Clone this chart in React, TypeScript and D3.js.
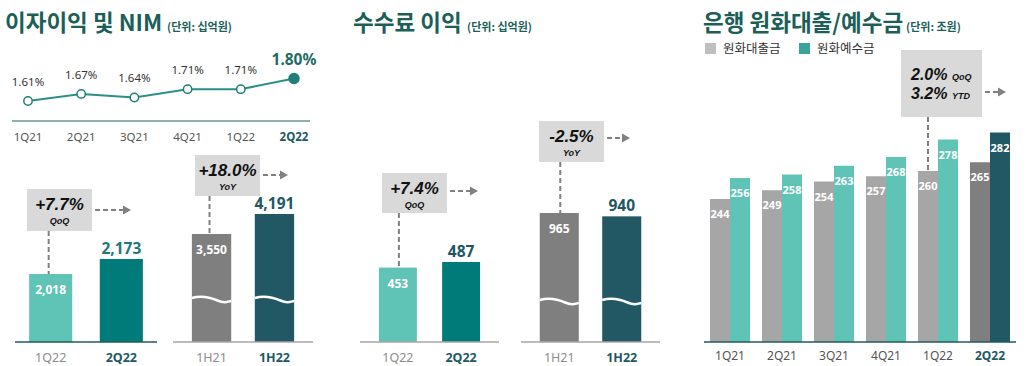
import * as d3 from 'd3';

// NIM
const nimQuarters = ['1Q21', '2Q21', '3Q21', '4Q21', '1Q22', '2Q22'];
const nimValues = [1.61, 1.67, 1.64, 1.71, 1.71, 1.8];

// 이자이익 (십억원)
const interestQLabels = ['1Q22', '2Q22'];
const interestQValues = [2018, 2173];
const interestHLabels = ['1H21', '1H22'];
const interestHValues = [3550, 4191];

// 수수료 이익 (십억원)
const feeQLabels = ['1Q22', '2Q22'];
const feeQValues = [453, 487];
const feeHLabels = ['1H21', '1H22'];
const feeHValues = [965, 940];

// 원화대출/예수금 (조원)
const loanQuarters = ['1Q21', '2Q21', '3Q21', '4Q21', '1Q22', '2Q22'];
const loanValues = [244, 249, 254, 257, 260, 265];
const depositValues = [256, 258, 263, 268, 278, 282];
const seriesNames = ['원화대출금', '원화예수금'];

const TITLE = '#1b5f58';
const LIGHT_TEAL = '#5fc3b5';
const TEAL = '#007b79';
const GRAY = '#7f7f7f';
const DARK_TEAL = '#215863';
const FONT = "'Noto Sans', 'Noto Sans CJK KR', sans-serif";
const KFONT = "'Noto Sans CJK KR', 'Noto Sans', sans-serif";
const CALLOUT_FONT = "'Liberation Sans', Arial, sans-serif";
const BASE = 342;

type CalloutProps = {
  x: number; y: number; w: number; h: number;
  big: string; small: string;
  lineX: number; lineY2: number;
  arrowY: number; arrowX2: number;
};

function Arrow({ x1, x2, y }: { x1: number; x2: number; y: number }) {
  return (
    <g>
      <line x1={x1 + 3} x2={x2 - 7} y1={y} y2={y} stroke="#808080" strokeWidth={2} strokeDasharray="5,3" />
      <path d={`M${x2 - 8},${y - 4.5} L${x2},${y} L${x2 - 8},${y + 4.5} Z`} fill="#808080" />
    </g>
  );
}

function Callout({ x, y, w, h, big, small, lineX, lineY2, arrowY, arrowX2 }: CalloutProps) {
  return (
    <g>
      <line x1={lineX} x2={lineX} y1={y + h} y2={lineY2} stroke="#808080" strokeWidth={2} strokeDasharray="5,3" />
      <rect x={x} y={y} width={w} height={h} fill="#d9d9d9" />
      <text x={x + w / 2} y={y + 21} textAnchor="middle" fontFamily={CALLOUT_FONT} fontWeight="bold" fontStyle="italic" fontSize={17} fill="#111">{big}</text>
      <text x={x + w / 2} y={y + 35} textAnchor="middle" fontFamily={CALLOUT_FONT} fontWeight="bold" fontStyle="italic" fontSize={9} fill="#111">{small}</text>
      <Arrow x1={x + w} x2={arrowX2} y={arrowY} />
    </g>
  );
}

function Wave({ x, w, y }: { x: number; w: number; y: number }) {
  return (
    <path
      d={`M${x},${y} C${x + w * 0.25},${y - 3} ${x + w * 0.45},${y - 1} ${x + w * 0.65},${y + 2.5} S${x + w * 0.9},${y + 3.5} ${x + w},${y + 3}`}
      fill="none" stroke="#fff" strokeWidth={2.5}
    />
  );
}

type PairProps = {
  labels: string[]; values: number[];
  x0: number; x1: number; pi: number; po: number;
  y: d3.ScaleLinear<number, number>;
  colors: string[]; labelColors: string[];
  baseColor: string; wave?: number;
};

function BarPair({ labels, values, x0, x1, pi, po, y, colors, labelColors, baseColor, wave }: PairProps) {
  const x = d3.scaleBand<string>().domain(labels).range([x0, x1]).paddingInner(pi).paddingOuter(po);
  const bw = x.bandwidth();
  return (
    <g>
      {labels.map((l, i) => {
        const bx = x(l)!;
        const top = y(values[i]);
        const cx = bx + bw / 2;
        return (
          <g key={l}>
            <rect x={bx} y={top} width={bw} height={BASE - top} fill={colors[i]} />
            {wave !== undefined && <Wave x={bx} w={bw} y={wave} />}
            {i === 0 ? (
              <text x={cx} y={top + 20} textAnchor="middle" fontFamily={FONT} fontWeight="bold" fontSize={12} fill="#fff">{d3.format(',')(values[i])}</text>
            ) : (
              <text x={cx} y={top - 5} textAnchor="middle" fontFamily={FONT} fontWeight="bold" fontSize={15.5} fill={labelColors[i]}>{d3.format(',')(values[i])}</text>
            )}
            <text x={cx} y={362} textAnchor="middle" fontFamily={FONT} fontWeight={i === 1 ? 'bold' : 'normal'} fontSize={12.5} fill={i === 1 ? DARK_TEAL : '#8c8c8c'}>{l}</text>
          </g>
        );
      })}
      <line x1={x0} x2={x1} y1={BASE} y2={BASE} stroke={baseColor} strokeWidth={1.5} />
    </g>
  );
}

function Title({ x, text, sub, subX }: { x: number; text: string; sub: string; subX: number }) {
  return (
    <g>
      <text x={x} y={31} fontFamily={KFONT} fontWeight="bold" fontSize={22.5} fill={TITLE}>{text}</text>
      <text x={subX} y={31} fontFamily={KFONT} fontWeight="bold" fontSize={11} fill={TITLE}>{sub}</text>
    </g>
  );
}

export default function App() {
  // NIM line
  const nx = d3.scalePoint<string>().domain(nimQuarters).range([28, 294]);
  const ny = d3.scaleLinear().domain([1.61, 1.8]).range([101, 78.5]);
  const line = d3.line<number>().x((_, i) => nx(nimQuarters[i])!).y(d => ny(d));

  const yIntQ = d3.scaleLinear().domain([1316, 2173]).range([BASE, 259]);
  const yIntH = d3.scaleLinear().domain([88, 4191]).range([BASE, 214]);
  const yFeeQ = d3.scaleLinear().domain([0, 487]).range([BASE, 262]);
  const yFeeH = d3.scaleLinear().domain([0, 965]).range([BASE, 213]);

  // right panel
  const gx = d3.scaleBand<string>().domain(loanQuarters).range([704, 1016]).paddingInner(0.23).paddingOuter(0.115);
  const sx = d3.scaleBand<string>().domain(seriesNames).range([0, gx.bandwidth()]);
  const ry = d3.scaleLinear().domain([162.3, 282]).range([BASE, 132.5]);
  const last = loanQuarters.length - 1;

  const intQx = d3.scaleBand<string>().domain(interestQLabels).range([15, 157]).paddingInner(0.39).paddingOuter(0.2);
  const intHx = d3.scaleBand<string>().domain(interestHLabels).range([173, 313]).paddingInner(0.375).paddingOuter(0.3);
  const feeQx = d3.scaleBand<string>().domain(feeQLabels).range([360, 499]).paddingInner(0.4).paddingOuter(0.3);
  const feeHx = d3.scaleBand<string>().domain(feeHLabels).range([521, 660]).paddingInner(0.375).paddingOuter(0.3);
  const ctr = (s: d3.ScaleBand<string>, k: string) => s(k)! + s.bandwidth() / 2;

  return (
    <svg width={1036} height={366} style={{ position: 'absolute', left: 0, top: 0, background: '#fff' }}>
      <Title x={5} text="이자이익 및 NIM" sub="(단위: 십억원)" subX={167} />
      <Title x={353} text="수수료 이익" sub="(단위: 십억원)" subX={467} />
      <Title x={703} text="은행 원화대출/예수금" sub="(단위: 조원)" subX={906} />

      {/* NIM */}
      <line x1={12} x2={310} y1={121} y2={121} stroke="#6e9494" strokeWidth={1.5} />
      <path d={line(nimValues) || ''} fill="none" stroke="#2b8f88" strokeWidth={2} />
      {nimValues.map((v, i) => {
        const isLast = i === last;
        const cx = nx(nimQuarters[i])!;
        const cy = ny(v);
        return (
          <g key={nimQuarters[i]}>
            <circle cx={cx} cy={cy} r={isLast ? 5 : 4.2} fill={isLast ? '#1f7f78' : '#fff'} stroke="#1f7f78" strokeWidth={1.5} />
            <text x={cx} y={cy - (isLast ? 14 : 15)} textAnchor="middle" fontFamily={FONT} fontWeight={isLast ? 'bold' : 'normal'} fontSize={isLast ? 15.5 : 11.5} fill={isLast ? '#1f6b65' : '#333'}>{d3.format('.2f')(v)}%</text>
            <text x={cx} y={141} textAnchor="middle" fontFamily={FONT} fontWeight={isLast ? 'bold' : 'normal'} fontSize={11.5} fill={isLast ? DARK_TEAL : '#555'}>{nimQuarters[i]}</text>
          </g>
        );
      })}

      {/* 이자이익 */}
      <Callout x={27} y={189} w={65} h={42} big="+7.7%" small="QoQ" lineX={ctr(intQx, '1Q22') - 2} lineY2={yIntQ(interestQValues[0])} arrowY={210} arrowX2={131} />
      <BarPair labels={interestQLabels} values={interestQValues} x0={15} x1={157} pi={0.39} po={0.2} y={yIntQ}
        colors={[LIGHT_TEAL, TEAL]} labelColors={['#fff', '#1d7a76']} baseColor="#1f5c5c" />
      <Callout x={195} y={155} w={65} h={41} big="+18.0%" small="YoY" lineX={ctr(intHx, '1H21') - 2} lineY2={yIntH(interestHValues[0])} arrowY={175} arrowX2={288} />
      <BarPair labels={interestHLabels} values={interestHValues} x0={173} x1={313} pi={0.375} po={0.3} y={yIntH}
        colors={[GRAY, DARK_TEAL]} labelColors={['#fff', DARK_TEAL]} baseColor="#a6a6a6" wave={298} />

      {/* 수수료 이익 */}
      <Callout x={382} y={173} w={65} h={40} big="+7.4%" small="QoQ" lineX={ctr(feeQx, '1Q22') + 1} lineY2={yFeeQ(feeQValues[0])} arrowY={191} arrowX2={478} />
      <BarPair labels={feeQLabels} values={feeQValues} x0={360} x1={499} pi={0.4} po={0.3} y={yFeeQ}
        colors={[LIGHT_TEAL, TEAL]} labelColors={['#fff', DARK_TEAL]} baseColor="#a6a6a6" />
      <Callout x={539} y={121} w={65} h={41} big="-2.5%" small="YoY" lineX={ctr(feeHx, '1H21') + 1} lineY2={yFeeH(feeHValues[0])} arrowY={138} arrowX2={630} />
      <BarPair labels={feeHLabels} values={feeHValues} x0={521} x1={660} pi={0.375} po={0.3} y={yFeeH}
        colors={[GRAY, DARK_TEAL]} labelColors={['#fff', DARK_TEAL]} baseColor="#a6a6a6" wave={300} />

      {/* 원화대출/예수금 */}
      <rect x={705} y={43} width={11} height={11} fill="#bfbfbf" />
      <text x={723} y={53} fontFamily={KFONT} fontSize={12.5} fill="#333">{seriesNames[0]}</text>
      <rect x={799} y={43} width={11} height={11} fill="#3aa39b" />
      <text x={817} y={53} fontFamily={KFONT} fontSize={12.5} fill="#333">{seriesNames[1]}</text>

      <line x1={ctr(gx, '1Q22') - sx.bandwidth() / 2} x2={ctr(gx, '1Q22') - sx.bandwidth() / 2} y1={117} y2={ry(loanValues[4])} stroke="#808080" strokeWidth={2} strokeDasharray="5,3" />
      <rect x={901} y={50} width={81} height={67} fill="#d9d9d9" />
      <text x={911} y={80} fontFamily={CALLOUT_FONT} fontWeight="bold" fontStyle="italic" fontSize={16} fill="#111">
        2.0% <tspan fontSize={9}>QoQ</tspan>
      </text>
      <text x={911} y={99} fontFamily={CALLOUT_FONT} fontWeight="bold" fontStyle="italic" fontSize={16} fill="#111">
        3.2% <tspan fontSize={9}>YTD</tspan>
      </text>
      <Arrow x1={982} x2={1006} y={92} />

      {loanQuarters.map((q, i) => {
        const isLast = i === last;
        const vals = [loanValues[i], depositValues[i]];
        const cols = isLast ? [GRAY, DARK_TEAL] : ['#a6a6a6', LIGHT_TEAL];
        return (
          <g key={q} transform={`translate(${gx(q)},0)`}>
            {seriesNames.map((s, j) => {
              const top = ry(vals[j]);
              return (
                <g key={s}>
                  <rect x={sx(s)} y={top} width={sx.bandwidth()} height={BASE - top} fill={cols[j]} />
                  <text x={sx(s)! + sx.bandwidth() / 2} y={top + 19} textAnchor="middle" fontFamily={FONT} fontWeight="bold" fontSize={11} fill="#fff">{vals[j]}</text>
                </g>
              );
            })}
            <text x={gx.bandwidth() / 2} y={360} textAnchor="middle" fontFamily={FONT} fontWeight={isLast ? 'bold' : 'normal'} fontSize={12} fill={isLast ? DARK_TEAL : '#555'}>{q}</text>
          </g>
        );
      })}
      <line x1={704} x2={1016} y1={BASE} y2={BASE} stroke="#1f5c5c" strokeWidth={1.5} />
    </svg>
  );
}
